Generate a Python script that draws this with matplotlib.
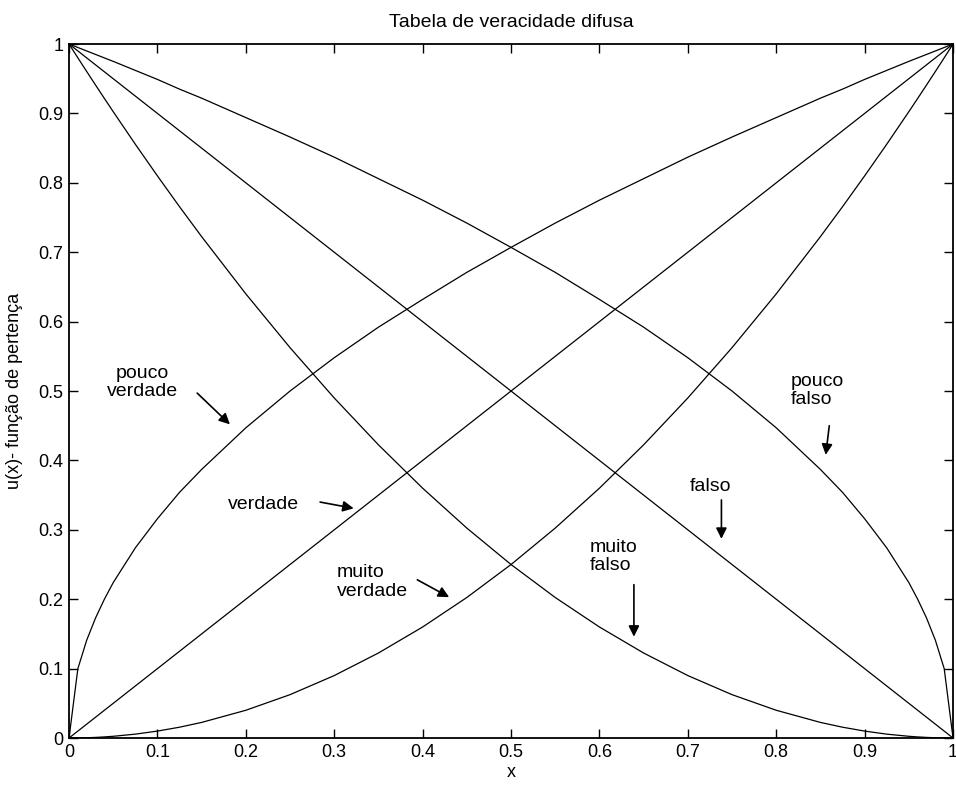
import matplotlib
matplotlib.use('Agg')
import matplotlib.pyplot as plt

plt.rcParams['font.family'] = ['Liberation Sans', 'DejaVu Sans']

# values
x_vals = [0, 0.01, 0.02, 0.03, 0.04, 0.05, 0.075, 0.10, 0.125, 0.15, 0.20, 0.25, 0.30,
          0.35, 0.40, 0.45, 0.50, 0.55, 0.60, 0.65, 0.70, 0.75, 0.80, 0.85, 0.875,
          0.90, 0.925, 0.95, 0.96, 0.97, 0.98, 0.99, 1.00]
verdade = [0, 0.01, 0.02, 0.03, 0.04, 0.05, 0.075, 0.10, 0.125, 0.15, 0.20, 0.25, 0.30,
           0.35, 0.40, 0.45, 0.50, 0.55, 0.60, 0.65, 0.70, 0.75, 0.80, 0.85, 0.875,
           0.90, 0.925, 0.95, 0.96, 0.97, 0.98, 0.99, 1.00]
falso = [1.00, 0.99, 0.98, 0.97, 0.96, 0.95, 0.925, 0.90, 0.875, 0.85, 0.80, 0.75, 0.70,
         0.65, 0.60, 0.55, 0.50, 0.45, 0.40, 0.35, 0.30, 0.25, 0.20, 0.15, 0.125,
         0.10, 0.075, 0.05, 0.04, 0.03, 0.02, 0.01, 0]
muito_verdade = [0, 0.0001, 0.0004, 0.0009, 0.0016, 0.0025, 0.0056, 0.01, 0.0156, 0.0225,
                 0.04, 0.0625, 0.09, 0.1225, 0.16, 0.2025, 0.25, 0.3025, 0.36, 0.4225,
                 0.49, 0.5625, 0.64, 0.7225, 0.7656, 0.81, 0.8556, 0.9025, 0.9216,
                 0.9409, 0.9604, 0.9801, 1.00]
muito_falso = [1.00, 0.9801, 0.9604, 0.9409, 0.9216, 0.9025, 0.8556, 0.81, 0.7656, 0.7225,
               0.64, 0.5625, 0.49, 0.4225, 0.36, 0.3025, 0.25, 0.2025, 0.16, 0.1225,
               0.09, 0.0625, 0.04, 0.0225, 0.0156, 0.01, 0.0056, 0.0025, 0.0016,
               0.0009, 0.0004, 0.0001, 0]
pouco_verdade = [0, 0.100, 0.141, 0.173, 0.200, 0.224, 0.274, 0.316, 0.354, 0.387,
                 0.447, 0.500, 0.548, 0.592, 0.632, 0.671, 0.707, 0.742, 0.775, 0.806,
                 0.837, 0.866, 0.894, 0.922, 0.935, 0.949, 0.962, 0.975, 0.980, 0.985,
                 0.990, 0.995, 1.00]
pouco_falso = [1.00, 0.995, 0.990, 0.985, 0.980, 0.975, 0.962, 0.949, 0.935, 0.922,
               0.894, 0.866, 0.837, 0.806, 0.775, 0.742, 0.707, 0.671, 0.632, 0.592,
               0.548, 0.500, 0.447, 0.387, 0.354, 0.316, 0.274, 0.224, 0.200, 0.173,
               0.141, 0.100, 0]

tick_vals = [0, 0.1, 0.2, 0.3, 0.4, 0.5, 0.6, 0.7, 0.8, 0.9, 1]
tick_labels = ['0', '0.1', '0.2', '0.3', '0.4', '0.5', '0.6', '0.7', '0.8', '0.9', '1']

# label text, text position, arrow tail, arrow tip, alignment
labels = [
    ('pouco\nverdade', (0.083, 0.512), (0.145, 0.497), (0.182, 0.452), 'center'),
    ('verdade', (0.220, 0.336), (0.284, 0.340), (0.322, 0.331), 'center'),
    ('muito\nverdade', (0.303, 0.225), (0.394, 0.228), (0.430, 0.203), 'left'),
    ('muito\nfalso', (0.589, 0.262), (0.639, 0.221), (0.639, 0.146), 'left'),
    ('falso', (0.726, 0.362), (0.738, 0.343), (0.738, 0.287), 'center'),
    ('pouco\nfalso', (0.816, 0.501), (0.860, 0.450), (0.856, 0.408), 'left'),
]

fig = plt.figure(figsize=(9.56, 7.89), dpi=100)
ax = fig.add_axes([0.0722, 0.0646, 0.9247, 0.8796])

for series in [verdade, falso, muito_verdade, muito_falso, pouco_verdade, pouco_falso]:
    ax.plot(x_vals, series, color='black', linewidth=0.9)

ax.set_xlim(0, 1)
ax.set_ylim(0, 1)
ax.set_xticks(tick_vals)
ax.set_xticklabels(tick_labels)
ax.set_yticks(tick_vals)
ax.set_yticklabels(tick_labels)
ax.tick_params(direction='in', length=6.5, width=1.0, top=True, right=True,
               labelsize=13, pad=4)
for sp in ax.spines.values():
    sp.set_linewidth(1.3)

ax.set_title('Tabela de veracidade difusa', fontsize=14, pad=12)
ax.set_xlabel('x', fontsize=13)
ax.set_ylabel('u(x)- função de pertença', fontsize=13)
ax.xaxis.set_label_coords(0.5, -0.037)
ax.yaxis.set_label_coords(-0.052, 0.5)

for text, pos, tail, tip, ha in labels:
    ax.text(pos[0], pos[1], text, fontsize=14, ha=ha, va='center',
            multialignment=ha, linespacing=1.1)
    ax.annotate('', xy=tip, xytext=tail,
                arrowprops=dict(arrowstyle='-|>', color='black', lw=1.2,
                                mutation_scale=16, shrinkA=0, shrinkB=0))

fig.savefig('out.png', dpi=100)
